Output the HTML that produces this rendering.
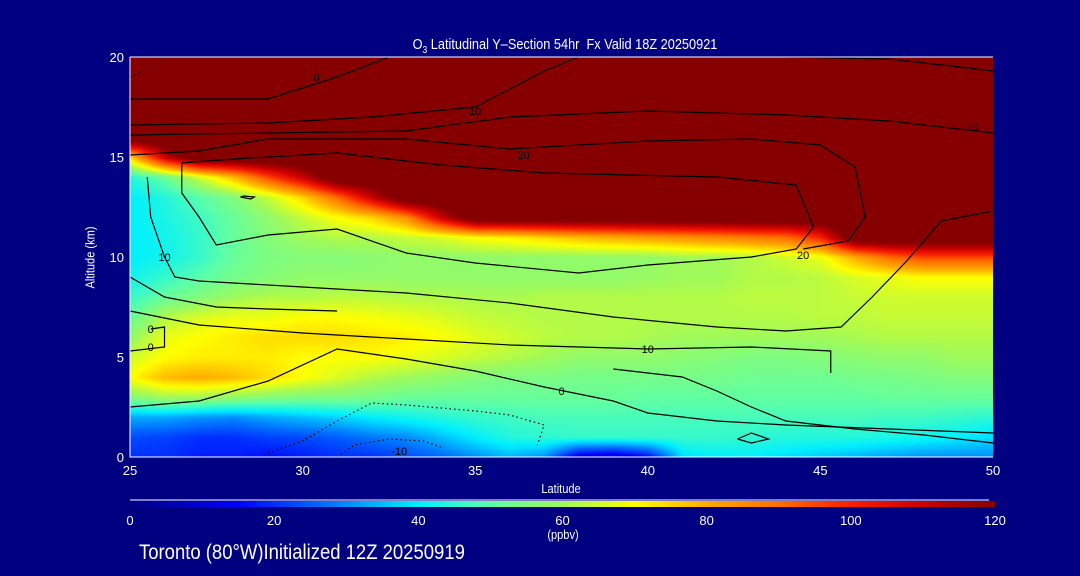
<!DOCTYPE html>
<html><head><meta charset="utf-8"><style>
html,body{margin:0;padding:0;background:#000080;width:1080px;height:576px;overflow:hidden}
#wrap{position:relative;width:1080px;height:576px;font-family:"Liberation Sans",sans-serif;color:#fff}
.t{position:absolute;white-space:nowrap;font-size:13px;transform:scaleX(0.85);transform-origin:center}
</style></head><body>
<div id="wrap">
<canvas id="field" width="863" height="400" style="position:absolute;left:130px;top:57px"></canvas>
<svg id="svg" width="1080" height="576" style="position:absolute;left:0;top:0"></svg>
<div class="t" style="left:330px;top:36px;font-size:15px;width:470px;text-align:center">O<sub style="font-size:10px">3</sub> Latitudinal Y&#8211;Section 54hr&nbsp; Fx Valid 18Z 20250921</div>
<div class="t" style="left:40px;top:250px;width:100px;text-align:center;transform:rotate(-90deg) scaleX(0.85)">Altitude (km)</div>
<div class="t" style="left:511px;top:481px;width:100px;text-align:center">Latitude</div>
<div class="t" style="left:513px;top:527px;width:100px;text-align:center">(ppbv)</div>
<div class="t" style="left:139px;top:541px;font-size:21px;transform:scaleX(0.88);transform-origin:left">Toronto (80°W)Initialized 12Z 20250919</div>
</div>
<script>
const lats=[25,26,27,28,29,30,31,32,33,34,35,36,37,38,39,40,41,42,43,44,45,46,47,48,49,50];
const alts=[0,1,2,3,4,5,6,7,8,9,10,11,12,13,14,15,16,17,18,19,20];
const o3_0=[20,20,18,18,16,18,20,20,23,26,30,34,30,10,8,15,38,40,40,38,36,34,32,30,30,30];
const o3_1=[23,22,20,20,22,23,25,28,30,35,40,44,45,46,46,46,46,46,45,44,44,44,43,42,40,38];
const o3_2=[33,33,31,30,33,35,37,40,42,44,46,47,48,48,48,48,48,48,48,48,48,48,47,47,46,45];
const o3_3=[56,60,60,58,56,55,55,54,52,52,52,52,52,52,52,51,51,51,51,51,51,51,52,52,52,52];
const o3_4=[70,78,80,78,74,70,66,62,60,58,56,55,55,54,54,54,54,54,53,53,53,54,54,55,56,56];
const o3_5=[65,70,72,72,72,70,70,70,68,66,64,62,60,58,58,58,57,56,55,55,56,57,58,58,60,60];
const o3_6=[58,68,70,72,74,74,74,73,72,70,67,65,63,62,62,61,60,60,60,60,60,61,62,62,62,62];
const o3_7=[52,62,66,68,68,70,70,69,68,66,64,63,62,62,62,62,62,62,62,62,63,63,64,64,64,64];
const o3_8=[46,52,56,60,62,62,63,63,62,62,61,61,62,62,62,62,62,62,63,63,63,64,65,65,65,65];
const o3_9=[42,46,50,54,56,58,58,58,58,58,58,58,58,58,58,59,60,60,62,62,63,66,68,70,70,70];
const o3_10=[40,42,46,52,55,56,56,57,58,58,58,58,58,58,58,58,60,60,62,65,68,80,90,95,95,95];
const o3_11=[40,42,46,52,56,60,62,62,64,66,70,72,75,78,80,82,84,86,88,90,100,130,130,130,130,130];
const o3_12=[40,43,47,52,58,64,70,75,85,110,130,130,130,130,130,130,130,130,130,130,130,130,130,130,130,130];
const o3_13=[40,44,50,56,64,75,90,110,130,130,130,130,130,130,130,130,130,130,130,130,130,130,130,130,130,130];
const o3_14=[44,52,65,78,95,110,130,130,130,130,130,130,130,130,130,130,130,130,130,130,130,130,130,130,130,130];
const o3_15=[75,110,130,130,130,130,130,130,130,130,130,130,130,130,130,130,130,130,130,130,130,130,130,130,130,130];
const o3_top=[130,130,130,130,130,130,130,130,130,130,130,130,130,130,130,130,130,130,130,130,130,130,130,130,130,130];
const rows=[o3_0,o3_1,o3_2,o3_3,o3_4,o3_5,o3_6,o3_7,o3_8,o3_9,o3_10,o3_11,o3_12,o3_13,o3_14,o3_15,o3_top,o3_top,o3_top,o3_top,o3_top];
const xTicks=[25,30,35,40,45,50];
const yTicks=[0,5,10,15,20];
const cbTicks=[0,20,40,60,80,100,120];
const contours=[
 {lab:"0",lx:30.4,ly:19,pts:[[25,17.9],[29,17.9],[31,19],[32.5,20]]},
 {lab:"10",lx:35,ly:17.3,pts:[[25,16.6],[29,16.7],[32,17],[35,17.5],[37,19.3],[38,20]]},
 {lab:"",pts:[[44,20],[47,19.9],[50,19.3]]},
 {lab:"10",lx:49.4,ly:16.5,pts:[[25,16.1],[33,16.3],[36,17],[40,17.3],[44,17.1],[47,16.8],[50,16.2]]},
 {lab:"20",lx:36.4,ly:15.1,pts:[[25,15.1],[27,15.3],[29,15.9],[33,15.9],[36,15.4],[40,15.8],[43,15.9],[45,15.6],[46,14.5],[46.3,12],[45.8,10.8],[44.5,10.4]]},
 {lab:"20",lx:44.5,ly:10.1,pts:[[26.5,14.7],[28,14.9],[31,15.2],[34,14.6],[37,14.2],[42,14],[44.3,13.6],[44.8,11.5],[44.3,10.4],[43,10],[40,9.6],[38,9.2],[35,9.7],[33,10.2],[31,11.4],[29,11.1],[27.5,10.6],[27,12],[26.5,13.2],[26.5,14.7]]},
 {lab:"10",lx:26,ly:10,pts:[[25.5,14],[25.6,12],[26,10],[26.3,9],[27,8.8],[30,8.5],[33,8.2],[36,7.7],[39,7],[42,6.5],[44,6.3],[45.6,6.5],[46.5,8],[47.5,9.8],[48.5,11.8],[50,12.3]]},
 {lab:"10",lx:40,ly:5.4,pts:[[25,7.3],[27,6.6],[30,6.2],[33,5.9],[36,5.6],[40,5.4],[43,5.5],[45.3,5.3],[45.3,4.2]]},
 {lab:"0",lx:25.6,ly:6.4,pts:[[25,9],[26,8],[27.5,7.5],[29,7.4],[31,7.3]]},
 {lab:"0",lx:25.6,ly:5.5,pts:[[25,5.3],[26,5.5],[26,6.5],[25.6,6.4]]},
 {lab:"0",lx:37.5,ly:3.3,pts:[[25,2.5],[27,2.8],[29,3.8],[31,5.4],[33,4.9],[35,4.3],[37,3.5],[39,2.8],[40,2.2],[42,1.8],[44,1.6],[47,1.4],[50,1.2]]},
 {lab:"",pts:[[39,4.4],[41,4],[42,3.3],[43,2.5],[44,1.8],[46,1.4],[48,1.1],[50,0.7]]},
 {lab:"",pts:[[42.6,0.9],[43,1.2],[43.5,0.9],[43,0.7],[42.6,0.9]]},
 {lab:"",pts:[[28.2,13],[28.5,12.9],[28.6,13],[28.3,13.05],[28.2,13]]}
];
const dotted=[
 {lab:"",pts:[[29,0.2],[30,0.8],[31,1.8],[32,2.7],[33,2.6],[35,2.3],[36,2.1],[37,1.6],[36.8,0.6]]},
 {lab:"-10",lx:32.8,ly:0.3,pts:[[31,0],[31.5,0.6],[32.5,0.9],[33.5,0.8],[34,0.5]]},
 {lab:"",pts:[[25,19],[26,19.8]]}
];
const PX=130,PY=57,PW=863,PH=400;
const xs=l=>PX+(l-25)/25*PW, ys=a=>PY+PH-a/20*PH;
const stops=[[0,0,0,130],[15,0,0,255],[28,0,120,255],[40,0,240,255],[50,90,255,170],[60,160,250,90],[70,255,255,0],[80,255,170,0],[90,255,110,0],[100,250,30,0],[110,200,0,0],[120,135,0,0]];
function cmap(v){v=Math.max(0,Math.min(120,v));for(let i=1;i<stops.length;i++){if(v<=stops[i][0]){const a=stops[i-1],b=stops[i],t=(v-a[0])/(b[0]-a[0]);return [a[1]+t*(b[1]-a[1]),a[2]+t*(b[2]-a[2]),a[3]+t*(b[3]-a[3])];}}return stops[stops.length-1].slice(1);}
const ctx=document.getElementById('field').getContext('2d');
const img=ctx.createImageData(PW,PH);
for(let py=0;py<PH;py++){const a=(PH-py)/PH*20;let j=Math.min(19,Math.floor(a));const fy=a-j;
 for(let px=0;px<PW;px++){const l=px/PW*25;let i=Math.min(24,Math.floor(l));const fx=l-i;
  const v=(rows[j][i]*(1-fx)+rows[j][i+1]*fx)*(1-fy)+(rows[j+1][i]*(1-fx)+rows[j+1][i+1]*fx)*fy;
  const c=cmap(v),k=(py*PW+px)*4;img.data[k]=c[0];img.data[k+1]=c[1];img.data[k+2]=c[2];img.data[k+3]=255;}}
ctx.putImageData(img,0,0);
const svg=document.getElementById('svg'),NS='http://www.w3.org/2000/svg';
function mk(t,at){const e=document.createElementNS(NS,t);for(const k in at)e.setAttribute(k,at[k]);svg.appendChild(e);return e;}
function drawC(c,dash,idx){const p=mk('polyline',{points:c.pts.map(q=>xs(q[0])+','+ys(q[1])).join(' '),fill:'none',stroke:'#000','stroke-width':1.2,'stroke-dasharray':dash});
 
 
 if(c.lab){const t=mk('text',{x:xs(c.lx),y:ys(c.ly)+4,'font-size':11,'text-anchor':'middle',fill:'#000','font-family':'Liberation Sans, sans-serif'});t.textContent=c.lab;
 
 }}
contours.forEach((c,i)=>drawC(c,'none',i));
dotted.forEach((c,i)=>drawC(c,'1.5,3','d'+i));
const ax=mk('path',{d:`M${PX} ${PY}H${PX+PW}M${PX} ${PY}V${PY+PH}H${PX+PW}`,stroke:'#fff','stroke-width':1,fill:'none'});


xTicks.forEach(v=>{const t=mk('text',{x:xs(v),y:475,'font-size':13,'text-anchor':'middle',fill:'#fff','font-family':'Liberation Sans, sans-serif'});t.textContent=v;
 
 });
yTicks.forEach(v=>{const t=mk('text',{x:124,y:ys(v)+5,'font-size':13,'text-anchor':'end',fill:'#fff','font-family':'Liberation Sans, sans-serif'});t.textContent=v;
 
 });
const g=mk('defs',{});const lg=document.createElementNS(NS,'linearGradient');lg.setAttribute('id','cb');g.appendChild(lg);
stops.forEach(s=>{const st=document.createElementNS(NS,'stop');st.setAttribute('offset',(s[0]/120*100)+'%');st.setAttribute('stop-color',`rgb(${s[1]},${s[2]},${s[3]})`);lg.appendChild(st);});
const cbx=130,cbw=865;
const cl=mk('line',{x1:cbx,x2:cbx+cbw-6,y1:500,y2:500,stroke:'#fff'});


const cb=mk('rect',{x:cbx,y:501,width:cbw,height:6,fill:'url(#cb)'});


cbTicks.forEach(v=>{const t=mk('text',{x:cbx+v/120*cbw,y:525,'font-size':13,'text-anchor':'middle',fill:'#fff','font-family':'Liberation Sans, sans-serif'});t.textContent=v;
 
 });
</script>
</body></html>
